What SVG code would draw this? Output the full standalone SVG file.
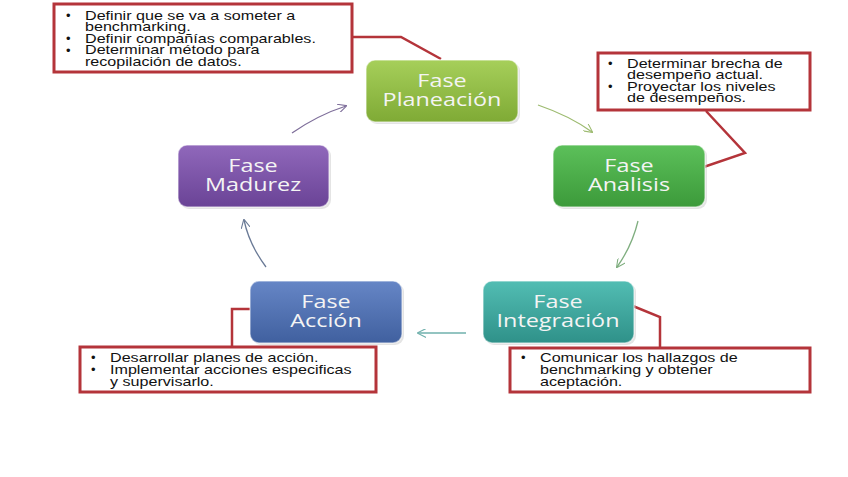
<svg xmlns="http://www.w3.org/2000/svg" width="848" height="477" viewBox="0 0 848 477">
<defs>
<linearGradient id="gP" x1="0" y1="0" x2="0" y2="1"><stop offset="0" stop-color="#a6cf5a"/><stop offset="1" stop-color="#7faa35"/></linearGradient>
<linearGradient id="gA" x1="0" y1="0" x2="0" y2="1"><stop offset="0" stop-color="#5cc05a"/><stop offset="1" stop-color="#3c9a3a"/></linearGradient>
<linearGradient id="gI" x1="0" y1="0" x2="0" y2="1"><stop offset="0" stop-color="#52bdb3"/><stop offset="1" stop-color="#2f9189"/></linearGradient>
<linearGradient id="gC" x1="0" y1="0" x2="0" y2="1"><stop offset="0" stop-color="#6686c6"/><stop offset="1" stop-color="#40609f"/></linearGradient>
<linearGradient id="gM" x1="0" y1="0" x2="0" y2="1"><stop offset="0" stop-color="#9068bb"/><stop offset="1" stop-color="#6a4396"/></linearGradient>
<marker id="ah" viewBox="0 0 10 10" refX="9" refY="5" markerWidth="9" markerHeight="9" orient="auto" markerUnits="userSpaceOnUse"><path d="M0,0 L10,5 L0,10" fill="none" stroke="context-stroke" stroke-width="1.2"/></marker>
</defs>
<style>
.node rect.b{stroke:#ffffff;stroke-opacity:0.5;stroke-width:1.5}
.nt{font-family:"Open Sans","Liberation Sans",sans-serif;font-size:19px;fill:#f4f4f4;text-anchor:middle}
.call rect{fill:#ffffff;stroke:#b4343a;stroke-width:3}
.ct{font-family:"Liberation Sans",Arial,sans-serif;font-size:13px;fill:#111}
.lead{fill:none;stroke:#b4343a;stroke-width:2.5}
.arr{fill:none;stroke-width:1.3;marker-end:url(#ah)}
</style>
<rect width="848" height="477" fill="#ffffff"/>

<g id="connectors">
<path class="arr" d="M538,105 Q570,116 592,132" stroke="#9dbb70"/>
<path class="arr" d="M638,221 Q632,246 617,267" stroke="#7fae7f"/>
<path class="arr" d="M466,333 L418,333" stroke="#6fb0ac"/>
<path class="arr" d="M266,267 Q249,244 244,220" stroke="#6a7a96"/>
<path class="arr" d="M292,133 Q318,115 346,106" stroke="#7e6e9a"/>
<polyline class="lead" points="352,37 401,37 441,59"/>
<polyline class="lead" points="706,111 745,153 689,172"/>
<polyline class="lead" points="232,346 232,309 251,309"/>
<polyline class="lead" points="628,304 660,317 660,348"/>
</g>

<g id="node-planeacion" class="node">
<rect x="366" y="60" width="152" height="62" rx="9" fill="#bbbbbb" opacity="0.4" transform="translate(2,2)"/>
<rect class="b" x="366" y="60" width="152" height="62" rx="9" fill="url(#gP)"/>
<text class="nt" transform="translate(442,87) scale(1.23,1)"><tspan x="0" y="0">Fase</tspan><tspan x="0" y="19">Planeación</tspan></text>
</g>
<g id="node-analisis" class="node">
<rect x="553" y="145" width="152" height="62" rx="9" fill="#bbbbbb" opacity="0.4" transform="translate(2,2)"/>
<rect class="b" x="553" y="145" width="152" height="62" rx="9" fill="url(#gA)"/>
<text class="nt" transform="translate(629,172) scale(1.23,1)"><tspan x="0" y="0">Fase</tspan><tspan x="0" y="19">Analisis</tspan></text>
</g>
<g id="node-integracion" class="node">
<rect x="483" y="281" width="151" height="62" rx="9" fill="#bbbbbb" opacity="0.4" transform="translate(2,2)"/>
<rect class="b" x="483" y="281" width="151" height="62" rx="9" fill="url(#gI)"/>
<text class="nt" transform="translate(558,308) scale(1.23,1)"><tspan x="0" y="0">Fase</tspan><tspan x="0" y="19">Integración</tspan></text>
</g>
<g id="node-accion" class="node">
<rect x="250" y="281" width="152" height="62" rx="9" fill="#bbbbbb" opacity="0.4" transform="translate(2,2)"/>
<rect class="b" x="250" y="281" width="152" height="62" rx="9" fill="url(#gC)"/>
<text class="nt" transform="translate(326,308) scale(1.23,1)"><tspan x="0" y="0">Fase</tspan><tspan x="0" y="19">Acción</tspan></text>
</g>
<g id="node-madurez" class="node">
<rect x="178" y="145" width="151" height="62" rx="9" fill="#bbbbbb" opacity="0.4" transform="translate(2,2)"/>
<rect class="b" x="178" y="145" width="151" height="62" rx="9" fill="url(#gM)"/>
<text class="nt" transform="translate(253,172) scale(1.23,1)"><tspan x="0" y="0">Fase</tspan><tspan x="0" y="19">Madurez</tspan></text>
</g>

<g id="callout-planeacion" class="call">
<rect x="54" y="4" width="298" height="68"/>
<text class="ct"><tspan x="66" y="20">•</tspan><tspan x="66" y="43">•</tspan><tspan x="66" y="54.5">•</tspan></text>
<text class="ct" transform="translate(85,0) scale(1.24,1)"><tspan x="0" y="20">Definir que se va a someter a</tspan><tspan x="0" y="31.5">benchmarking.</tspan><tspan x="0" y="43">Definir compañías comparables.</tspan><tspan x="0" y="54.5">Determinar método para</tspan><tspan x="0" y="66">recopilación de datos.</tspan></text>
</g>
<g id="callout-analisis" class="call">
<rect x="598" y="53" width="212" height="57"/>
<text class="ct"><tspan x="608" y="68">•</tspan><tspan x="608" y="91">•</tspan></text>
<text class="ct" transform="translate(627,0) scale(1.24,1)"><tspan x="0" y="68">Determinar brecha de</tspan><tspan x="0" y="79.5">desempeño actual.</tspan><tspan x="0" y="91">Proyectar los niveles</tspan><tspan x="0" y="102.5">de desempeños.</tspan></text>
</g>
<g id="callout-accion" class="call">
<rect x="80" y="347" width="296" height="45"/>
<text class="ct"><tspan x="91" y="362">•</tspan><tspan x="91" y="374">•</tspan></text>
<text class="ct" transform="translate(110,0) scale(1.24,1)"><tspan x="0" y="362">Desarrollar planes de acción.</tspan><tspan x="0" y="374">Implementar acciones especificas</tspan><tspan x="0" y="386">y supervisarlo.</tspan></text>
</g>
<g id="callout-integracion" class="call">
<rect x="510" y="348" width="300" height="44"/>
<text class="ct"><tspan x="521" y="362">•</tspan></text>
<text class="ct" transform="translate(540,0) scale(1.24,1)"><tspan x="0" y="362">Comunicar los hallazgos de</tspan><tspan x="0" y="374">benchmarking y obtener</tspan><tspan x="0" y="386">aceptación.</tspan></text>
</g>
</svg>
